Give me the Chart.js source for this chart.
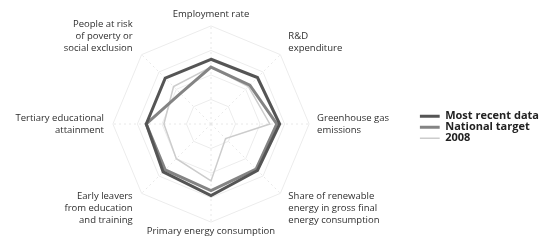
<!DOCTYPE html>
<html>
<head>
<meta charset="utf-8">
<script src="https://cdn.jsdelivr.net/npm/chart.js@4.4.1/dist/chart.umd.min.js"></script>
<style>
  html, body { margin: 0; padding: 0; background: #fff; }
  #wrap { width: 542px; height: 243px; position: relative; }
</style>
</head>
<body>
<div id="wrap"><canvas id="chart"></canvas></div>
<script>
// axis labels, clockwise from the top
const categories = [
  'Employment rate',
  ['R&D', 'expenditure'],
  ['Greenhouse gas', 'emissions'],
  ['Share of renewable', 'energy in gross final', 'energy consumption'],
  'Primary energy consumption',
  ['Early leavers', 'from education', 'and training'],
  ['Tertiary educational', 'attainment'],
  ['People at risk', 'of poverty or', 'social exclusion'],
];

// values (share of the outer ring)
const mostRecent = [0.66, 0.67, 0.70, 0.67, 0.73, 0.69, 0.66, 0.66];
const nationalTarget = [0.58, 0.56, 0.67, 0.65, 0.68, 0.66, 0.66, 0.44];
const year2008 = [0.58, 0.54, 0.60, 0.21, 0.58, 0.50, 0.48, 0.54];

const labelFont = '9.5px "Open Sans"';
const lineH = 12;

// the reference sets its axis labels beside the ring corners, not out along the spokes
const sideLabels = {
  id: 'sideLabels',
  afterDraw(chart) {
    const scale = chart.scales.r;
    const ctx = chart.ctx;
    const R = scale.drawingArea;
    ctx.save();
    ctx.font = labelFont;
    ctx.fillStyle = '#2e2e2e';
    ctx.textBaseline = 'middle';
    categories.forEach((lab, i) => {
      const lines = Array.isArray(lab) ? lab : [lab];
      const p = scale.getPointPosition(i, R);
      const h = lines.length * lineH;
      let x = p.x, top;
      if (i === 0) { ctx.textAlign = 'center'; top = p.y - 6 - h; }
      else if (i === 4) { ctx.textAlign = 'center'; top = p.y + 3; }
      else {
        const right = i < 4;
        ctx.textAlign = right ? 'left' : 'right';
        x = right ? p.x + 8 : p.x - 9;
        if (i === 1 || i === 7) top = p.y - h;
        else if (i === 2 || i === 6) top = p.y - h / 2;
        else top = p.y - 3;
      }
      lines.forEach((t, k) => ctx.fillText(t, x, top + lineH * k + lineH / 2));
    });
    ctx.restore();
  },
};

new Chart(document.getElementById('chart'), {
  type: 'radar',
  data: {
    labels: categories,
    datasets: [
      { label: 'Most recent data', data: mostRecent, borderColor: '#555555', borderWidth: 3, fill: false, pointRadius: 0 },
      { label: 'National target', data: nationalTarget, borderColor: '#848484', borderWidth: 3, fill: false, pointRadius: 0 },
      { label: '2008', data: year2008, borderColor: '#cccccc', borderWidth: 1.5, fill: false, pointRadius: 0 },
    ],
  },
  options: {
    responsive: true,
    maintainAspectRatio: false,
    animation: false,
    layout: { padding: { top: 6.5, bottom: -5, left: -1, right: -7 } },
    plugins: {
      tooltip: { enabled: false },
      legend: {
        position: 'right',
        labels: {
          usePointStyle: true,
          pointStyle: 'line',
          pointStyleWidth: 20,
          padding: 0,
          color: '#222',
          font: { family: 'Open Sans', size: 11, weight: 'bold' },
        },
      },
    },
    scales: {
      r: {
        min: 0,
        max: 1,
        ticks: { display: false, stepSize: 0.25 },
        grid: { color: '#ececec', borderDash: [1, 3], lineWidth: 1 },
        angleLines: { color: '#e8e8e8', borderDash: [2, 3] },
        // kept for sizing the ring; the visible text comes from sideLabels
        pointLabels: { color: 'rgba(0,0,0,0)', font: { family: 'Open Sans', size: 9.5 }, padding: 8 },
      },
    },
  },
  plugins: [sideLabels],
});
</script>
</body>
</html>
